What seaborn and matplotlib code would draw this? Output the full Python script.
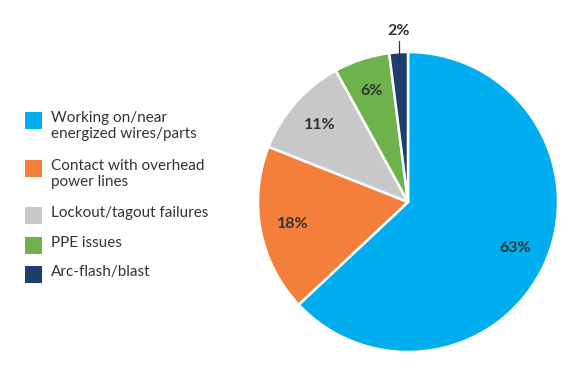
import matplotlib
matplotlib.use("Agg")
import matplotlib.pyplot as plt
import seaborn as sns
import numpy as np
from matplotlib.patches import Rectangle

categories = ["Working on/near\nenergized wires/parts",
              "Contact with overhead\npower lines",
              "Lockout/tagout failures",
              "PPE issues",
              "Arc-flash/blast"]
values = [63, 18, 11, 6, 2]
pct_labels = ["63%", "18%", "11%", "6%", "2%"]
colors = ["#00ADEE", "#F47F3A", "#C8C8CA", "#6DB24B", "#1C3F6B"]

sns.set_theme(style="white")
plt.rcParams['font.family'] = ['Lato', 'DejaVu Sans']
TXT = "#333333"

W, H = 580, 370
fig = plt.figure(figsize=(W / 100, H / 100), dpi=100)
fig.patch.set_facecolor("white")

# pie axes: center (408,202), radius 150 px
cx, cy, r = 408, 202, 150
ax = fig.add_axes([(cx - r) / W, (H - cy - r) / H, 2 * r / W, 2 * r / H])
wedges, texts = ax.pie(values, colors=colors, startangle=90, counterclock=False,
                       radius=1.0, wedgeprops=dict(edgecolor="white", linewidth=1.8))
ax.set_xlim(-1, 1)
ax.set_ylim(-1, 1)
ax.set_aspect("equal")
ax.axis("off")

start = 90.0
total = sum(values)
for v, lab in zip(values, pct_labels):
    span = 360.0 * v / total
    mid = np.deg2rad(start - span / 2)
    start -= span
    if v < 4:
        x0 = np.cos(mid)
        ax.plot([x0, x0], [1.075, 0.945], color=TXT, lw=0.9, clip_on=False)
        ax.text(x0, 1.14, lab, ha="center", va="center", fontsize=11.5,
                fontweight="bold", color=TXT, clip_on=False)
    else:
        ax.text(0.78 * np.cos(mid), 0.78 * np.sin(mid), lab, ha="center",
                va="center", fontsize=11.5, fontweight="bold", color=TXT)

# legend drawn in figure pixel coords
rows_y = [112, 160, 207, 237, 266]
for yt, lab, c in zip(rows_y, categories, colors):
    fig.add_artist(Rectangle((25 / W, (H - yt - 17) / H), 17 / W, 17 / H,
                             transform=fig.transFigure, facecolor=c,
                             edgecolor="none"))
    fig.text(51 / W, (H - yt + 1) / H, lab, ha="left", va="top", fontsize=11,
             color=TXT, linespacing=1.15)

fig.savefig("out.png", dpi=100, facecolor="white")
